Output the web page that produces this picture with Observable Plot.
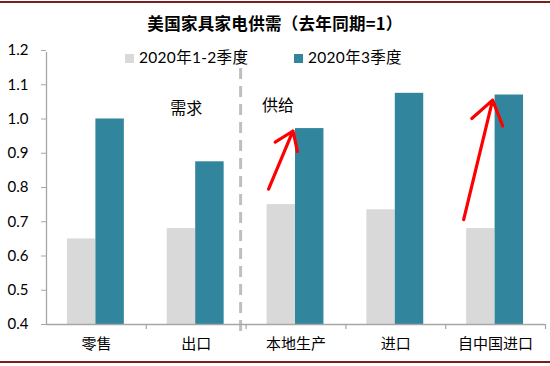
<!DOCTYPE html>
<html>
<head>
<meta charset="utf-8">
<script src="https://cdn.jsdelivr.net/npm/d3@7"></script>
<script src="https://cdn.jsdelivr.net/npm/@observablehq/plot@0.6"></script>
<style>
  body { margin: 0; background: #fff; }
  #wrap { position: relative; width: 550px; height: 366px; overflow: hidden; font-family: "Lato", "Noto Sans CJK SC", sans-serif; }
  .bar { position: absolute; left: 0; width: 550px; height: 2px; background: #7b1e1e; }
  #title { position: absolute; top: 12px; left: 0; width: 550px; text-align: center; font-family: "Noto Sans CJK SC", sans-serif; font-weight: bold; font-size: 16.5px; line-height: 22px; color: #000; letter-spacing: 0.3px; }
  .leg { position: absolute; top: 47px; font-size: 15.5px; line-height: 20px; color: #000; white-space: nowrap; letter-spacing: 0.3px; }
  .sw { display: inline-block; width: 9px; height: 9px; margin-right: 5px; vertical-align: 0px; }
  #chart { position: absolute; left: 0; top: 0; }
</style>
</head>
<body>
<div id="wrap">
  <div id="chart"></div>
  <div class="bar" style="top:1px"></div>
  <div class="bar" style="top:361px"></div>
  <div id="title">美国家具家电供需（去年同期=1）</div>
  <div class="leg" id="leg1" style="left:125px"></div>
  <div class="leg" id="leg2" style="left:294px"></div>
</div>
<script>
const categories = ["零售", "出口", "本地生产", "进口", "自中国进口"];
const seriesNames = ["2020年1-2季度", "2020年3季度"];
const valuesH1 = [0.65, 0.68, 0.75, 0.735, 0.68];
const valuesQ3 = [1.00, 0.875, 0.972, 1.075, 1.07];
const yTicks = [0.4, 0.5, 0.6, 0.7, 0.8, 0.9, 1.0, 1.1, 1.2];
const colors = ["#d9d9d9", "#31859c"];
const sectionLabels = [
  {text: "需求", x: 1.40, y: 1.03},
  {text: "供给", x: 2.32, y: 1.038}
];
const arrows = [
  {x1: 2.225, y1: 0.795, x2: 2.47, y2: 0.965},
  {x1: 4.18, y1: 0.706, x2: 4.47, y2: 1.055}
];
const dividerX = 1.945;

const rows = [];
categories.forEach((c, i) => {
  rows.push({cat: c, idx: i, s: 0, value: valuesH1[i]});
  rows.push({cat: c, idx: i, s: 1, value: valuesQ3[i]});
});
const off = [0.21, 0.495];
const bw = 0.285;

document.getElementById("leg1").innerHTML = `<span class="sw" style="background:${colors[0]}"></span>${seriesNames[0]}`;
document.getElementById("leg2").innerHTML = `<span class="sw" style="background:${colors[1]}"></span>${seriesNames[1]}`;

const axisColor = "#a6a6a6";
const chart = Plot.plot({
  width: 550,
  height: 366,
  marginLeft: 46,
  marginRight: 5,
  marginTop: 50,
  marginBottom: 42,
  style: {fontFamily: "Lato, 'Noto Sans CJK SC', sans-serif", background: "transparent", color: "#000"},
  x: {domain: [0, 5]},
  y: {domain: [0.4, 1.2]},
  marks: [
    Plot.rectY(rows, {
      x1: d => d.idx + off[d.s],
      x2: d => d.idx + off[d.s] + bw,
      y1: 0.4,
      y2: "value",
      fill: d => colors[d.s]
    }),
    Plot.ruleX([dividerX], {y1: 1.2, y2: 0.4, insetBottom: -11, stroke: "#bfbfbf", strokeWidth: 3, strokeDasharray: "11,7"}),
    Plot.ruleY([0.4], {stroke: axisColor, strokeWidth: 1.3}),
    Plot.ruleX([0], {y1: 0.4, y2: 1.2, insetBottom: -2, stroke: axisColor, strokeWidth: 1.3}),
    Plot.ruleX([1, 2, 3, 4, 5], {y1: 0.4, y2: 0.4, insetBottom: -5, stroke: axisColor, strokeWidth: 1.2}),
    Plot.axisY({ticks: yTicks, tickFormat: ".1f", tickSize: 5, tickPadding: 13, fontSize: 15, stroke: axisColor, label: null}),
    Plot.axisX({ticks: [0.5, 1.5, 2.5, 3.5, 4.5], tickFormat: d => categories[Math.round(d - 0.5)], tickSize: 0, tickPadding: 14, fontSize: 15, fontFamily: "'Noto Sans CJK SC', sans-serif", label: null}),
    Plot.text(sectionLabels, {x: "x", y: "y", text: "text", fontSize: 16, fontFamily: "'Noto Sans CJK SC', sans-serif", fill: "#000"}),
    Plot.arrow(arrows, {x1: "x1", y1: "y1", x2: "x2", y2: "y2", stroke: "#ff0000", strokeWidth: 3.2, headLength: 13, headAngle: 70})
  ]
});
document.getElementById("chart").appendChild(chart);
</script>
</body>
</html>
